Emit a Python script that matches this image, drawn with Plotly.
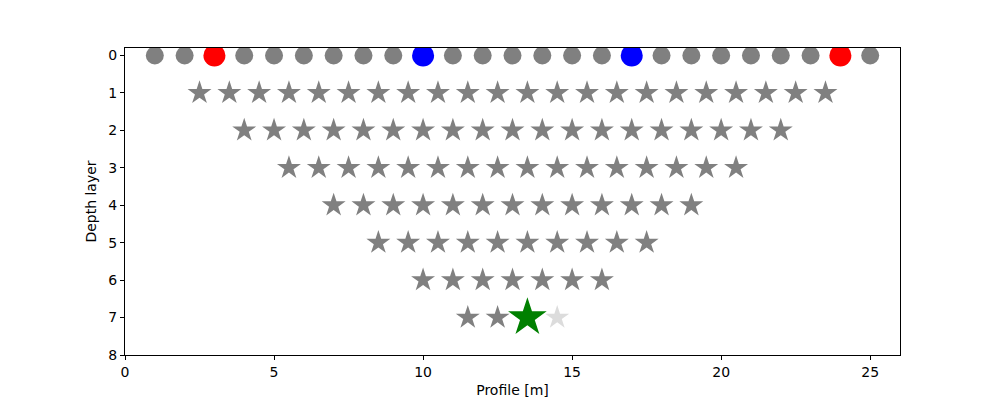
import plotly.graph_objects as go

# Electrodes along the profile (depth layer 0)
electrode_x = list(range(1, 26))
current_electrodes = [3, 24]
potential_electrodes = [10, 17]

# Measurement points (pseudosection) per depth layer
layer_depths = [1, 2, 3, 4, 5, 6, 7]
layer_starts = [2.5, 4.0, 5.5, 7.0, 8.5, 10.0, 11.5]
layer_counts = [22, 19, 16, 13, 10, 7, 4]
highlight_x = 13.5
highlight_depth = 7
faded_x = 14.5
faded_depth = 7

star_x, star_y = [], []
for d, s, n in zip(layer_depths, layer_starts, layer_counts):
    for i in range(n):
        x = s + i
        if (d == highlight_depth and x == highlight_x) or (d == faded_depth and x == faded_x):
            continue
        star_x.append(x)
        star_y.append(d)

fig = go.Figure()
fig.add_trace(go.Scatter(x=electrode_x, y=[0] * len(electrode_x), mode="markers",
                         marker=dict(symbol="circle", size=18, color="gray"), showlegend=False))
fig.add_trace(go.Scatter(x=current_electrodes, y=[0] * 2, mode="markers",
                         marker=dict(symbol="circle", size=22, color="red"), showlegend=False))
fig.add_trace(go.Scatter(x=potential_electrodes, y=[0] * 2, mode="markers",
                         marker=dict(symbol="circle", size=22, color="blue"), showlegend=False))
fig.add_trace(go.Scatter(x=star_x, y=star_y, mode="markers",
                         marker=dict(symbol="star", size=18, color="gray"), showlegend=False))
fig.add_trace(go.Scatter(x=[faded_x], y=[faded_depth], mode="markers",
                         marker=dict(symbol="star", size=18, color="#dcdcdc"), showlegend=False))
fig.add_trace(go.Scatter(x=[highlight_x], y=[highlight_depth], mode="markers",
                         marker=dict(symbol="star", size=29, color="green"), showlegend=False))

font = dict(family="DejaVu Sans", size=14, color="black")
axis_common = dict(showgrid=False, zeroline=False, showline=True, linecolor="black", linewidth=1,
                   mirror=True, ticks="outside", ticklen=4, tickcolor="black", automargin=False,
                   tickfont=font)
fig.update_xaxes(range=[0, 26], tickvals=[0, 5, 10, 15, 20, 25],
                 title=dict(text="Profile [m]", font=font, standoff=6),
                 **axis_common)
fig.update_yaxes(range=[8, -0.2], tickvals=list(range(0, 9)),
                 title=dict(text="Depth layer", font=font, standoff=8),
                 **axis_common)
fig.update_layout(width=992, height=392, plot_bgcolor="white", paper_bgcolor="white",
                  margin=dict(l=117, r=100, t=40, b=45))
fig.write_html("out.html")
